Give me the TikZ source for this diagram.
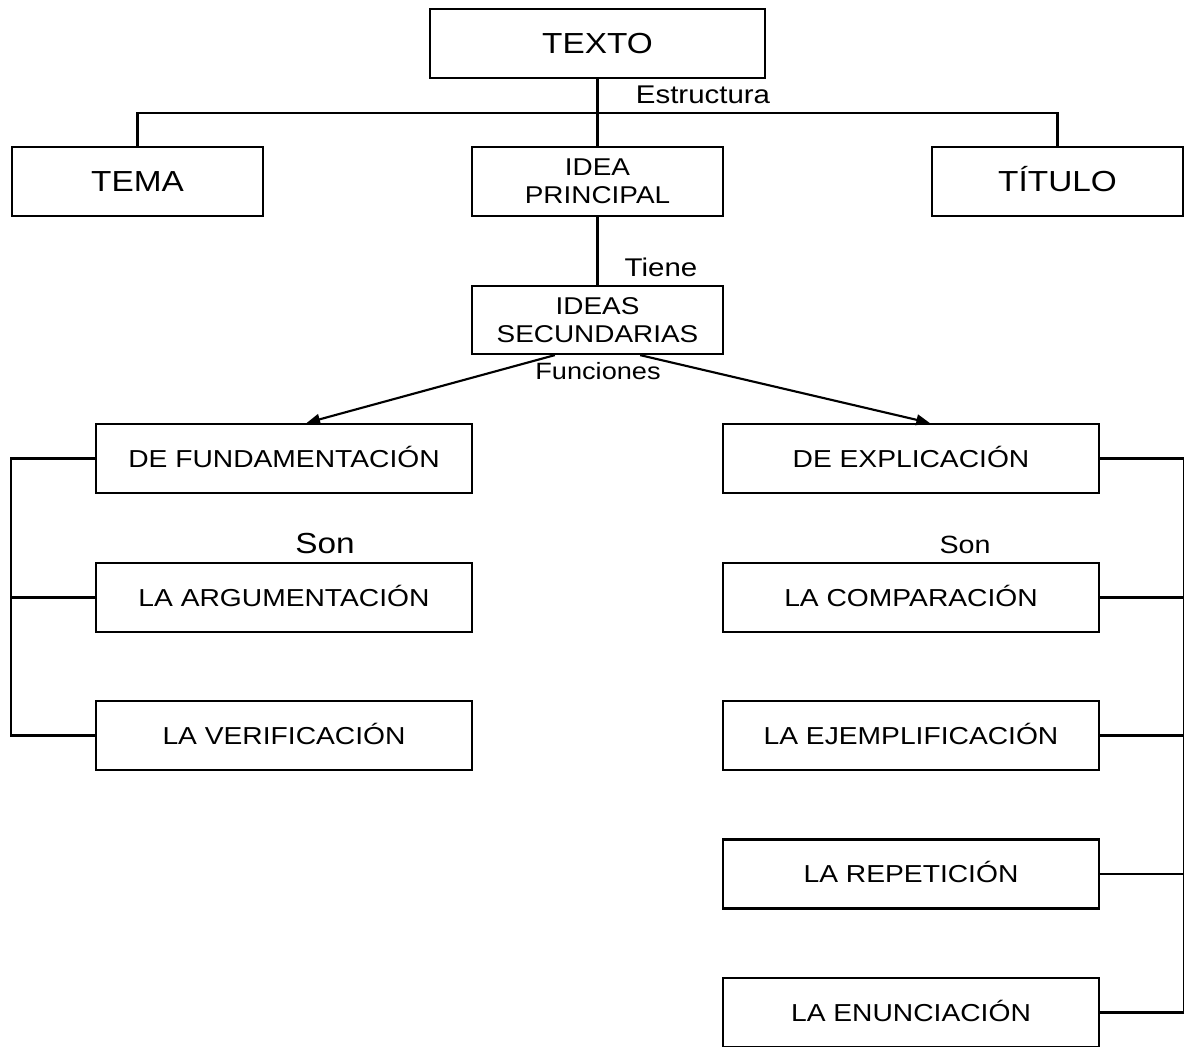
\documentclass[tikz,border=0pt]{standalone}
\usepackage{fontspec}
\setmainfont{Liberation Sans}[FakeStretch=1.15]
\usetikzlibrary{arrows.meta,positioning}

\begin{document}
\begin{tikzpicture}[
    x = 0.75pt, y = -0.75pt, % one unit = one pixel of the sheet
    > = {Triangle[length=10pt,width=8pt]}, % arrow head style
    line width = 1.6pt % line style
    ]

    \tikzset{
    box/.style = {draw = black, line width = 1.7pt, fill = white,
        inner sep = 0pt, align = center, minimum height = 51.75pt,
        minimum width = 188.25pt, text height = 13.2pt, text depth = 0pt,
        font = \fontsize{18.4}{22}\selectfont},
    bigbox/.style = {box, text height = 15.6pt,
        font = \fontsize{21.75}{26}\selectfont},
    twobox/.style = {box, text height = {}, text depth = {},
        font = \fontsize{18.2}{21}\selectfont},
    widebox/.style = {box, minimum width = 282pt},
    lbl/.style = {inner sep = 0pt, font = \fontsize{19.2}{22}\selectfont}
    }
    \useasboundingbox (0,0) rectangle (1184,1046);

    % top of the tree
    \node[bigbox, minimum width = 251.25pt] (texto) at (597.5,43.5) {TEXTO};
    \node[bigbox] (tema) at (137.5,181.5) {TEMA};
    \node[twobox] (ideap) at (597.5,181.5) {IDEA\\PRINCIPAL};
    \node[bigbox] (titulo) at (1057.5,181.5) {TÍTULO};
    \node[twobox, minimum height = 51pt] (ideas) at (597.5,320) {IDEAS\\SECUNDARIAS};

    % the two functions
    \node[widebox] (fund) at (284,458.5) {DE FUNDAMENTACIÓN};
    \node[widebox] (expl) at (911,458.5) {DE EXPLICACIÓN};

    \node[widebox] (arg) at (284,597.5) {LA ARGUMENTACIÓN};
    \node[widebox] (verif) at (284,735.5) {LA VERIFICACIÓN};

    \node[widebox] (comp) at (911,597.5) {LA COMPARACIÓN};
    \node[widebox] (ejem) at (911,735.5) {LA EJEMPLIFICACIÓN};
    \node[widebox] (repe) at (911,874) {LA REPETICIÓN};
    \node[widebox] (enun) at (911,1012.5) {LA ENUNCIACIÓN};

    % labels
    \node[lbl] (estr) at (703,95) {Estructura};
    \node[lbl] (tiene) at (661,267) {Tiene};
    \node[lbl, font = \fontsize{17.7}{20}\selectfont] (func) at (598,371) {Funciones};
    \node[lbl, font = \fontsize{21.75}{26}\selectfont] (sonl) at (325,544) {Son};
    \node[lbl, font = \fontsize{18.7}{22}\selectfont] (sonr) at (965,545) {Son};

    % connectors
    \coordinate (bar) at (597.5,113);
    \draw (texto) -- (ideap);
    \draw (tema.north) |- (bar) -| (titulo.north);
    \draw (ideap) -- (ideas);
    \draw[->] ([xshift=-32pt]ideas.south) -- ([xshift=17pt]fund.north);
    \draw[->] ([xshift=32pt]ideas.south) -- ([xshift=14pt]expl.north);

    \draw (fund.west) -- ++(-84,0) |- (verif.west);
    \draw (arg.west) -- ++(-84,0);
    \draw (expl.east) -- ++(84,0) |- (enun.east);
    \foreach \n in {comp,ejem,repe}
        \draw (\n.east) -- ++(84,0);
\end{tikzpicture}
\end{document}
